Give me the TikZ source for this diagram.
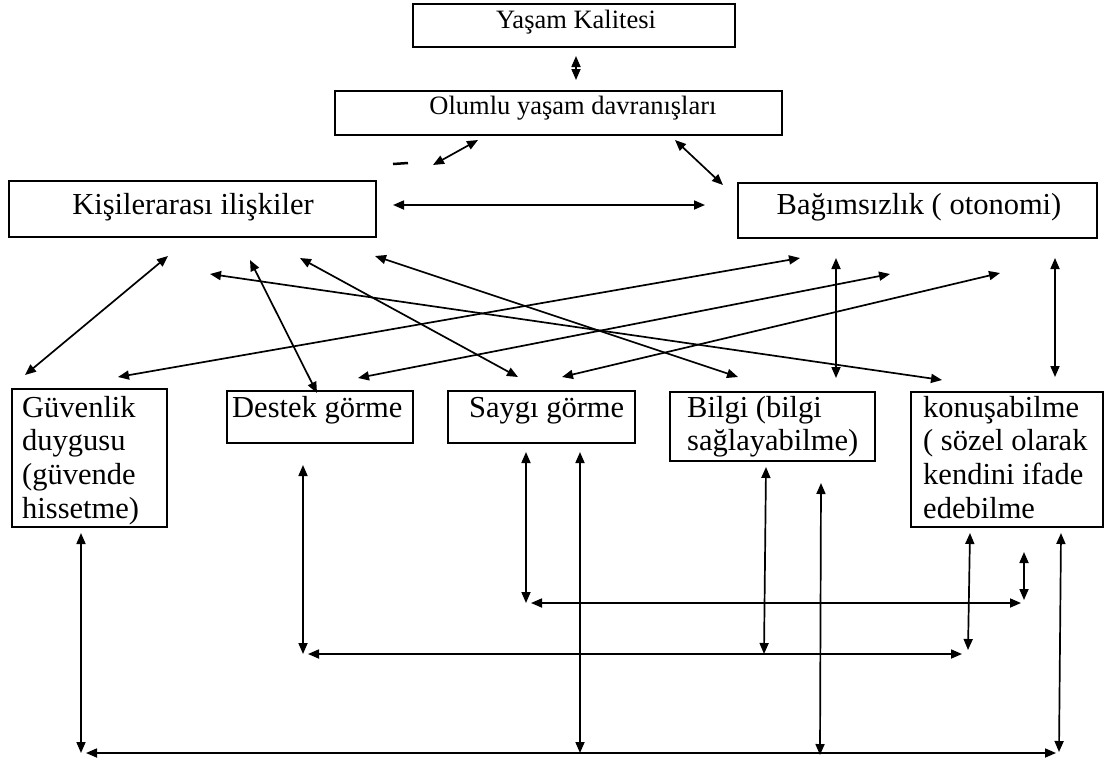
\documentclass[tikz,border=0pt]{standalone}
\usepackage{fontspec}
\setmainfont{Liberation Serif}
\usetikzlibrary{arrows.meta}
\begin{document}
\begin{tikzpicture}[x=1pt,y=-1pt,
  box/.style={draw, line width=1.8pt, inner sep=0pt, outer sep=0pt, anchor=north west},
  big/.style={font=\fontsize{30.5}{33.7}\selectfont, inner sep=0pt},
  mid/.style={font=\fontsize{26.5}{30}\selectfont, inner sep=0pt},
  arr/.style={line width=1.7pt, {Triangle[length=11pt,width=9pt]}-{Triangle[length=11pt,width=9pt]}},
]
\useasboundingbox (0,0) rectangle (1109,764);

% boxes
\node[box, minimum width=322pt, minimum height=43pt] (yk) at (413,4) {};
\node[box, minimum width=447pt, minimum height=44pt] (oy) at (335,91) {};
\node[box, minimum width=367pt, minimum height=56pt] (ki) at (9,181) {};
\node[box, minimum width=359pt, minimum height=55pt] (bg) at (738,183) {};
\node[box, minimum width=155pt, minimum height=138pt] (gv) at (12,389) {};
\node[box, minimum width=186pt, minimum height=52pt] (dg) at (227,391) {};
\node[box, minimum width=187pt, minimum height=52pt] (sg) at (448,391) {};
\node[box, minimum width=205pt, minimum height=69pt] (bl) at (670,392) {};
\node[box, minimum width=192pt, minimum height=135pt] (ko) at (911,392) {};

% texts
\node[mid, anchor=base] (tyk) at (576,28) {Yaşam Kalitesi};
\node[mid, anchor=base] (toy) at (573,114) {Olumlu yaşam davranışları};
\node[big, anchor=base] (tki) at (193,214) {Kişilerarası ilişkiler};
\node[big, anchor=base] (tbg) at (919,214) {Bağımsızlık ( otonomi)};
\node[big, anchor=base west] (tgv) at (22,417) {\begin{tabular}[t]{@{}l@{}}Güvenlik\\duygusu\\(güvende\\hissetme)\end{tabular}};
\node[big, anchor=base west] (tdg) at (232,417) {Destek görme};
\node[big, anchor=base west] (tsg) at (469,417) {Saygı görme};
\node[big, anchor=base west] (tbl) at (687,417) {\begin{tabular}[t]{@{}l@{}}Bilgi (bilgi\\sağlayabilme)\end{tabular}};
\node[big, anchor=base west] (tko) at (923,417) {\begin{tabular}[t]{@{}l@{}}konuşabilme\\( sözel olarak\\kendini ifade\\edebilme\end{tabular}};

% connector end points
\coordinate (p1a) at (576,56);  \coordinate (p1b) at (576,80);
\coordinate (p2a) at (478,140); \coordinate (p2b) at (433,165);
\coordinate (p3a) at (675,140); \coordinate (p3b) at (723,185);
\coordinate (d1) at (393,164);  \coordinate (d2) at (408,163);
\coordinate (p4a) at (393,205); \coordinate (p4b) at (705,205);
% middle
\coordinate (ma1) at (168,256); \coordinate (ma2) at (25,375);
\coordinate (mb1) at (250,260); \coordinate (mb2) at (317,393);
\coordinate (mc1) at (300,258); \coordinate (mc2) at (518,377);
\coordinate (md1) at (375,256); \coordinate (md2) at (738,377);
\coordinate (me1) at (210,274); \coordinate (me2) at (942,380);
\coordinate (mf1) at (800,258); \coordinate (mf2) at (118,377);
\coordinate (mg1) at (890,274); \coordinate (mg2) at (358,378);
\coordinate (mh1) at (1000,273); \coordinate (mh2) at (562,377);
\coordinate (mi1) at (836,258); \coordinate (mi2) at (836,378);
\coordinate (mj1) at (1055,258); \coordinate (mj2) at (1055,377);
% lower
\coordinate (g1) at (81,533);  \coordinate (g2) at (81,753);
\coordinate (hc1) at (86,753); \coordinate (hc2) at (1056,753);
\coordinate (s2a) at (580,452); \coordinate (s2b) at (580,753);
\coordinate (b2a) at (821,483); \coordinate (b2b) at (820,755);
\coordinate (k3a) at (1061,533); \coordinate (k3b) at (1059,752);
\coordinate (hb1) at (308,654); \coordinate (hb2) at (962,654);
\coordinate (dv1) at (303,465); \coordinate (dv2) at (303,654);
\coordinate (b1a) at (766,467); \coordinate (b1b) at (764,654);
\coordinate (k1a) at (970,533); \coordinate (k1b) at (968,650);
\coordinate (ha1) at (531,603); \coordinate (ha2) at (1021,603);
\coordinate (s1a) at (526,452); \coordinate (s1b) at (526,603);
\coordinate (k2a) at (1024,552); \coordinate (k2b) at (1024,600);

% connectors
\draw[arr] (p1a) -- (p1b);
\draw[arr] (p2a) -- (p2b);
\draw[arr] (p3a) -- (p3b);
\draw[line width=2.5pt] (d1) -- (d2);
\draw[arr] (p4a) -- (p4b);
\foreach \n in {ma,mb,mc,md,me,mf,mg,mh,mi,mj} \draw[arr] (\n1) -- (\n2);
\draw[arr] (g1) -- (g2);
\draw[arr] (hc1) -- (hc2);
\draw[arr] (s2a) -- (s2b);
\draw[arr] (b2a) -- (b2b);
\draw[arr] (k3a) -- (k3b);
\draw[arr] (hb1) -- (hb2);
\draw[arr] (dv1) -- (dv2);
\draw[arr] (b1a) -- (b1b);
\draw[arr] (k1a) -- (k1b);
\draw[arr] (ha1) -- (ha2);
\draw[arr] (s1a) -- (s1b);
\draw[arr] (k2a) -- (k2b);
\end{tikzpicture}
\end{document}
